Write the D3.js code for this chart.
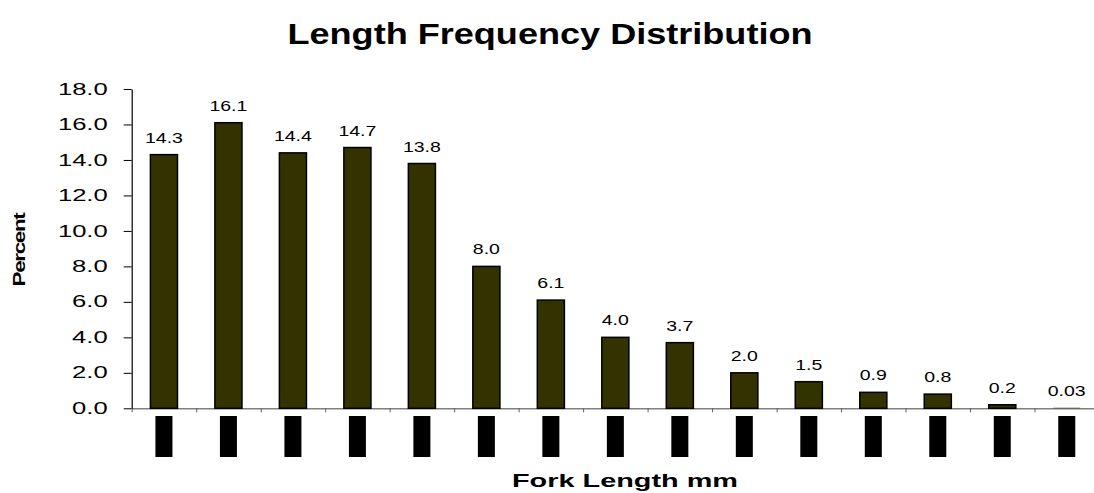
<!DOCTYPE html>
<html>
<head>
<meta charset="utf-8">
<script src="https://cdnjs.cloudflare.com/ajax/libs/d3/7.8.5/d3.min.js"></script>
<style>
  body { margin: 0; background: #fff; }
  text { font-family: "Liberation Sans", Arial, sans-serif; }
</style>
</head>
<body>
<div id="graph"></div>
<script>
// data
var categories = ["bin1", "bin2", "bin3", "bin4", "bin5", "bin6", "bin7", "bin8",
                  "bin9", "bin10", "bin11", "bin12", "bin13", "bin14", "bin15"];
var percents = [14.3, 16.1, 14.4, 14.7, 13.8, 8.0, 6.1, 4.0, 3.7, 2.0, 1.5, 0.9, 0.8, 0.2, 0.03];
var valueLabels = ["14.3", "16.1", "14.4", "14.7", "13.8", "8.0", "6.1", "4.0",
                   "3.7", "2.0", "1.5", "0.9", "0.8", "0.2", "0.03"];
var yTicks = [0, 2, 4, 6, 8, 10, 12, 14, 16, 18];

var titleText = "Length Frequency Distribution";
var xTitle = "Fork Length mm";
var yTitle = "Percent";

// measurements
var width = 1094;
var height = 493;
var plotLeft = 131.7, plotRight = 1099;
var plotTop = 89, plotBottom = 408.3;

var data = categories.map(function (c, i) {
    return { cat: c, value: percents[i], label: valueLabels[i] };
});

// stretch text horizontally (the original is wider than the font)
function stretch(sel, k) {
    sel.each(function () {
        var len = this.getComputedTextLength();
        d3.select(this)
            .attr("textLength", len * k)
            .attr("lengthAdjust", "spacingAndGlyphs");
    });
}

var svg = d3.select("#graph").append("svg")
    .attr("width", width)
    .attr("height", height);

var x = d3.scaleBand()
    .domain(categories)
    .range([plotLeft, plotRight])
    .paddingInner(0.58)
    .paddingOuter(0.29);

var xEdges = d3.scaleLinear()
    .domain([0, categories.length])
    .range([plotLeft, plotRight]);

var y = d3.scaleLinear()
    .domain([0, 18])
    .range([plotBottom, plotTop]);

// x axis (gray, ticks between categories)
var xAxis = svg.append("g")
    .attr("transform", "translate(0," + plotBottom + ")")
    .call(d3.axisBottom(xEdges)
        .tickValues(d3.range(0, categories.length + 1))
        .tickFormat("")
        .tickSize(4)
        .tickSizeOuter(0));
xAxis.select(".domain").attr("stroke", "#808080").attr("stroke-width", 1.5);
xAxis.selectAll(".tick line").attr("stroke", "#606060");

// bars
svg.selectAll(".bar")
    .data(data)
    .enter().append("rect")
    .attr("class", "bar")
    .attr("x", function (d) { return x(d.cat); })
    .attr("y", function (d) { return y(d.value); })
    .attr("width", x.bandwidth())
    .attr("height", function (d) { return plotBottom - y(d.value); })
    .attr("fill", "#333300")
    .attr("stroke", "#000")
    .attr("stroke-width", function (d) { return plotBottom - y(d.value) < 1 ? 0 : 1.5; });

// value labels
svg.selectAll(".vlabel")
    .data(data)
    .enter().append("text")
    .attr("class", "vlabel")
    .attr("x", function (d) { return x(d.cat) + x.bandwidth() / 2; })
    .attr("y", function (d) { return y(d.value) - 12; })
    .attr("text-anchor", "middle")
    .style("font-size", "15px")
    .attr("fill", "#000")
    .text(function (d) { return d.label; })
    .call(stretch, 1.3);

// y axis
var yAxis = svg.append("g")
    .attr("transform", "translate(" + plotLeft + ",0)")
    .call(d3.axisLeft(y)
        .tickValues(yTicks)
        .tickFormat(d3.format(".1f"))
        .tickSize(8)
        .tickSizeOuter(0)
        .tickPadding(16));
yAxis.select(".domain").attr("stroke", "#000").attr("stroke-width", 1.2);
yAxis.selectAll(".tick line").attr("stroke", "#000");
yAxis.selectAll(".tick text")
    .style("font-size", "16px")
    .attr("fill", "#000")
    .call(stretch, 1.6);

// category labels (hidden behind black blocks in the source)
var catLabels = svg.selectAll(".cat")
    .data(data)
    .enter().append("g")
    .attr("class", "cat")
    .attr("transform", function (d) {
        return "translate(" + (x(d.cat) + x.bandwidth() / 2) + ",416)";
    });
catLabels.append("rect")
    .attr("x", -8.5)
    .attr("y", 0)
    .attr("width", 17)
    .attr("height", 41)
    .attr("fill", "#000");

// titles
svg.append("text")
    .attr("x", 550)
    .attr("y", 44)
    .attr("text-anchor", "middle")
    .style("font-size", "29px")
    .style("font-weight", "bold")
    .attr("fill", "#000")
    .text(titleText)
    .attr("textLength", 525)
    .attr("lengthAdjust", "spacingAndGlyphs");

svg.append("text")
    .attr("x", 625)
    .attr("y", 487)
    .attr("text-anchor", "middle")
    .style("font-size", "18px")
    .style("font-weight", "bold")
    .attr("fill", "#000")
    .text(xTitle)
    .attr("textLength", 226)
    .attr("lengthAdjust", "spacingAndGlyphs");

svg.append("text")
    .attr("transform", "translate(25,250) rotate(-90)")
    .attr("text-anchor", "middle")
    .style("font-size", "17px")
    .style("font-weight", "bold")
    .style("letter-spacing", "-1px")
    .attr("fill", "#000")
    .text(yTitle)
    .attr("textLength", 73)
    .attr("lengthAdjust", "spacingAndGlyphs");
</script>
</body>
</html>
